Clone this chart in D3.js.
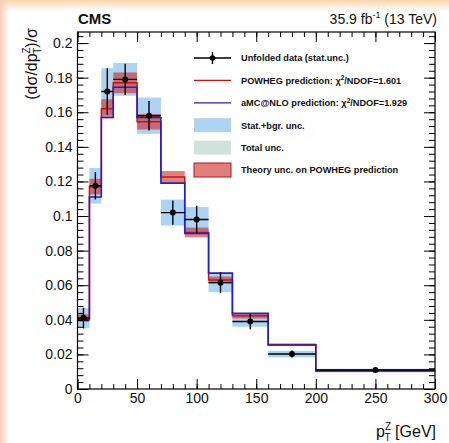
<!DOCTYPE html>
<html>
<head>
<meta charset="utf-8">
<script src="https://cdn.jsdelivr.net/npm/d3@7"></script>
<style>
  html, body { margin: 0; padding: 0; }
  body { width: 449px; height: 443px; overflow: hidden; position: relative; background: #fff;
         font-family: "Liberation Sans", Arial, Helvetica, sans-serif; }
  #edgeTop { position: absolute; left: 0; top: 0; width: 449px; height: 11px;
             background: linear-gradient(#fbd5aa, rgba(255,255,255,0)); }
  #edgeLeft { position: absolute; left: 0; top: 0; width: 9px; height: 443px;
              background: linear-gradient(to right, #fbcbbb, rgba(255,255,255,0)); }
  svg { position: absolute; left: 0; top: 0; }
</style>
</head>
<body>
<div id="edgeTop"></div>
<div id="edgeLeft"></div>
<svg id="chart" width="449" height="443"></svg>
<script>
// bins in pT(Z) [GeV]
const binEdges = [0, 10, 20, 30, 50, 70, 90, 110, 130, 160, 200, 300];
// unfolded data and its uncertainties
const dataValues  = [0.041, 0.1175, 0.172, 0.179, 0.158, 0.102, 0.098, 0.0615, 0.039, 0.0202, 0.011];
const dataStatErr = [0.006, 0.008, 0.0135, 0.009, 0.0085, 0.007, 0.008, 0.006, 0.0045, 0.002, 0.0008];
const statBgrUnc  = [0.0058, 0.0103, 0.0135, 0.0095, 0.0105, 0.0075, 0.0072, 0.0055, 0.003, 0.0019, 0.0007];
// predictions
const powhegValues = [0.041, 0.117, 0.162, 0.177, 0.1545, 0.1225, 0.0905, 0.063, 0.0423, 0.0256, 0.0102];
const theoryUnc    = [0.0022, 0.0045, 0.0055, 0.006, 0.0045, 0.0035, 0.0028, 0.002, 0.0015, 0.0008, 0.0005];
const amcnloValues = [0.040, 0.111, 0.157, 0.1745, 0.157, 0.119, 0.090, 0.067, 0.0437, 0.0254, 0.011];

const xTicks = [0, 50, 100, 150, 200, 250, 300];
const xMinor = d3.range(0, 301, 10);
const yTicks = [0, 0.02, 0.04, 0.06, 0.08, 0.1, 0.12, 0.14, 0.16, 0.18, 0.2];
const yMinor = d3.range(0, 52).map(i => i * 0.004).filter(v => v < 0.2062);

const legendLabels = [
  "Unfolded data (stat.unc.)",
  "POWHEG prediction: ",
  "aMC@NLO prediction: ",
  "Stat.+bgr. unc.",
  "Total unc.",
  "Theory unc. on POWHEG prediction"
];
const chi2Values = [null, "1.601", "1.929", null, null, null];

// colours
const cBlueBand = "#acd3f1";
const cTotal = "#cfe2db";
const cRed = "#cc1111";
const cRedBand = "rgba(205,40,40,0.6)";
const cBlue = "#2323b8";

const svg = d3.select("#chart");
const pLeft = 77.5, pRight = 435, pTop = 32, pBottom = 389;

let x = d3.scaleLinear().domain([0, 300]).range([pLeft, pRight]);
let y = d3.scaleLinear().domain([0, 0.2064]).range([pBottom, pTop]);

let bins = dataValues.map((v, i) => ({
  x0: binEdges[i], x1: binEdges[i + 1], v: v,
  err: dataStatErr[i], stat: statBgrUnc[i],
  pw: powhegValues[i], th: theoryUnc[i], amc: amcnloValues[i]
}));

svg.append("rect").attr("x", pLeft).attr("y", pTop)
  .attr("width", pRight - pLeft).attr("height", pBottom - pTop).attr("fill", "#fff");

svg.append("clipPath").attr("id", "clip").append("rect")
  .attr("x", pLeft).attr("y", pTop).attr("width", pRight - pLeft).attr("height", pBottom - pTop);

let plot = svg.append("g").attr("clip-path", "url(#clip)");

// stat+bgr bands
plot.selectAll(".statband").data(bins).enter().append("rect")
  .attr("x", d => x(d.x0)).attr("width", d => x(d.x1) - x(d.x0))
  .attr("y", d => y(d.v + d.stat)).attr("height", d => y(d.v - d.stat) - y(d.v + d.stat))
  .attr("fill", cBlueBand);

// theory bands
plot.selectAll(".thband").data(bins).enter().append("rect")
  .attr("x", d => x(d.x0)).attr("width", d => x(d.x1) - x(d.x0))
  .attr("y", d => y(d.pw + d.th)).attr("height", d => y(d.pw - d.th) - y(d.pw + d.th))
  .attr("fill", cRedBand);

// step lines
function stepPoints(vals) {
  let pts = vals.map((v, i) => [binEdges[i], v]);
  pts.push([binEdges[binEdges.length - 1], vals[vals.length - 1]]);
  return pts;
}
let step = d3.line().x(d => x(d[0])).y(d => y(d[1])).curve(d3.curveStepAfter);

plot.append("path").datum(stepPoints(powhegValues)).attr("d", step)
  .attr("fill", "none").attr("stroke", cRed).attr("stroke-width", 1.5);
plot.append("path").datum(stepPoints(amcnloValues)).attr("d", step)
  .attr("fill", "none").attr("stroke", cBlue).attr("stroke-width", 1.6);

// data points
let pts = plot.selectAll(".pt").data(bins).enter().append("g");
pts.append("line")
  .attr("x1", d => x(d.x0)).attr("x2", d => x(d.x1))
  .attr("y1", d => y(d.v)).attr("y2", d => y(d.v))
  .attr("stroke", "#000").attr("stroke-width", 1.4);
pts.append("line")
  .attr("x1", d => x((d.x0 + d.x1) / 2)).attr("x2", d => x((d.x0 + d.x1) / 2))
  .attr("y1", d => y(d.v - d.err)).attr("y2", d => y(d.v + d.err))
  .attr("stroke", "#000").attr("stroke-width", 1.4);
pts.append("circle")
  .attr("cx", d => x((d.x0 + d.x1) / 2)).attr("cy", d => y(d.v)).attr("r", 3)
  .attr("fill", "#000");

// axes (ROOT style, ticks inside)
function styleAxis(g) {
  g.select(".domain").remove();
  g.selectAll("line").attr("stroke", "#000").attr("stroke-width", 1);
  g.selectAll("text").attr("font-size", 14).attr("fill", "#111")
    .attr("font-family", "'Liberation Sans', Arial, sans-serif");
}
svg.append("g").attr("transform", `translate(0,${pBottom})`)
  .call(d3.axisBottom(x).tickValues(xTicks).tickSize(-10).tickPadding(4).tickFormat(d3.format("d")))
  .call(styleAxis);
svg.append("g").attr("transform", `translate(0,${pBottom})`)
  .call(d3.axisBottom(x).tickValues(xMinor).tickSize(-5).tickFormat(""))
  .call(styleAxis);
svg.append("g").attr("transform", `translate(0,${pTop})`)
  .call(d3.axisTop(x).tickValues(xTicks).tickSize(-10).tickFormat(""))
  .call(styleAxis);
svg.append("g").attr("transform", `translate(0,${pTop})`)
  .call(d3.axisTop(x).tickValues(xMinor).tickSize(-5).tickFormat(""))
  .call(styleAxis);
svg.append("g").attr("transform", `translate(${pLeft},0)`)
  .call(d3.axisLeft(y).tickValues(yTicks).tickSize(-11).tickPadding(5).tickFormat(d => String(d)))
  .call(styleAxis);
svg.append("g").attr("transform", `translate(${pLeft},0)`)
  .call(d3.axisLeft(y).tickValues(yMinor).tickSize(-6).tickFormat(""))
  .call(styleAxis);
svg.append("g").attr("transform", `translate(${pRight},0)`)
  .call(d3.axisRight(y).tickValues(yTicks).tickSize(-11).tickFormat(""))
  .call(styleAxis);
svg.append("g").attr("transform", `translate(${pRight},0)`)
  .call(d3.axisRight(y).tickValues(yMinor).tickSize(-6).tickFormat(""))
  .call(styleAxis);

// frame
svg.append("rect").attr("x", pLeft).attr("y", pTop)
  .attr("width", pRight - pLeft).attr("height", pBottom - pTop)
  .attr("fill", "none").attr("stroke", "#000").attr("stroke-width", 1.2);

// header
svg.append("text").attr("x", 78).attr("y", 24).text("CMS")
  .attr("font-size", 15).attr("font-weight", "bold").attr("fill", "#111");
let lumi = svg.append("text").attr("x", 437).attr("y", 24).attr("text-anchor", "end")
  .attr("font-size", 14).attr("fill", "#111");
lumi.append("tspan").text("35.9 fb");
lumi.append("tspan").text("-1").attr("font-size", 9).attr("dy", -6);
lumi.append("tspan").text(" (13 TeV)").attr("dy", 6);

// axis titles
let xt = svg.append("text").attr("x", 436).attr("y", 437).attr("text-anchor", "end")
  .attr("font-size", 16).attr("fill", "#111");
xt.append("tspan").text("p");
xt.append("tspan").text("Z").attr("font-size", 10).attr("dy", -7);
xt.append("tspan").text("T").attr("font-size", 10).attr("dx", -6.5).attr("dy", 11);
xt.append("tspan").text(" [GeV]").attr("dy", -4);

let yt = svg.append("text").attr("transform", "translate(37,28) rotate(-90)")
  .attr("text-anchor", "end").attr("font-size", 16).attr("fill", "#111");
yt.append("tspan").text("(d\u03c3/dp");
yt.append("tspan").text("Z").attr("font-size", 10).attr("dy", -7);
yt.append("tspan").text("T").attr("font-size", 10).attr("dx", -6.5).attr("dy", 11);
yt.append("tspan").text(")/\u03c3").attr("dy", -4);

// legend
const legX0 = 194, legX1 = 231, legTextX = 241, legY0 = 58, legStep = 22.4;
let leg = svg.append("g");
legendLabels.forEach((lab, i) => {
  let ly = legY0 + i * legStep;
  if (i === 0) {
    leg.append("line").attr("x1", legX0).attr("x2", legX1).attr("y1", ly).attr("y2", ly)
      .attr("stroke", "#000").attr("stroke-width", 1.4);
    leg.append("line").attr("x1", (legX0 + legX1) / 2).attr("x2", (legX0 + legX1) / 2)
      .attr("y1", ly - 6).attr("y2", ly + 6).attr("stroke", "#000").attr("stroke-width", 1.4);
    leg.append("circle").attr("cx", (legX0 + legX1) / 2).attr("cy", ly).attr("r", 2.8);
  } else if (i === 1 || i === 2) {
    leg.append("line").attr("x1", legX0).attr("x2", legX1).attr("y1", ly).attr("y2", ly)
      .attr("stroke", i === 1 ? cRed : cBlue).attr("stroke-width", 1.3);
  } else {
    leg.append("rect").attr("x", legX0).attr("y", ly - 7).attr("width", legX1 - legX0).attr("height", 14)
      .attr("fill", i === 3 ? cBlueBand : i === 4 ? cTotal : cRedBand)
      .attr("stroke", i === 5 ? "#b01818" : "none").attr("stroke-width", 1);
  }
  let t = leg.append("text").attr("x", legTextX).attr("y", ly + 3.3)
    .attr("font-size", 9.2).attr("font-weight", "bold").attr("fill", "#111").text(lab);
  if (chi2Values[i]) {
    t.append("tspan").text("\u03c7");
    t.append("tspan").text("2").attr("font-size", 6.4).attr("dy", -3.5);
    t.append("tspan").text("/NDOF=" + chi2Values[i]).attr("dy", 3.5);
  }
});
</script>
</body>
</html>
